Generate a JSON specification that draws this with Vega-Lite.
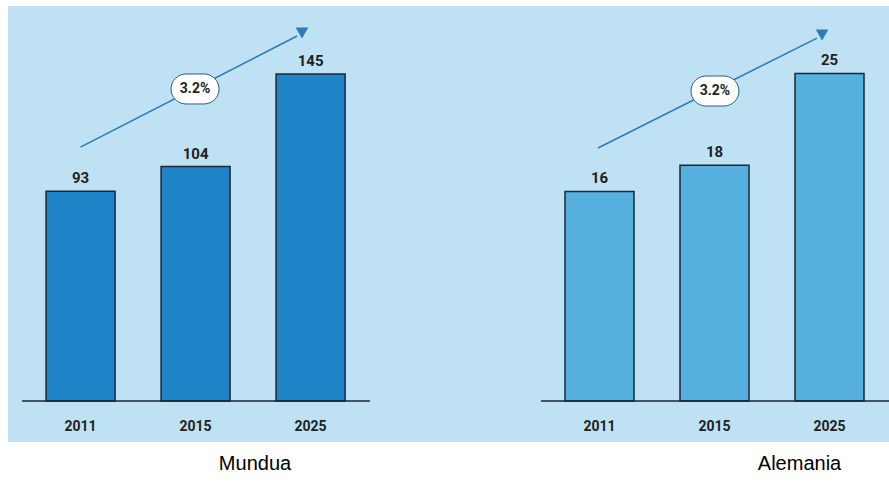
{
  "$schema": "https://vega.github.io/schema/vega-lite/v6.json",
  "background": "white",
  "padding": {"left": 8, "top": 6, "right": 0, "bottom": 0},
  "spacing": 0,
  "config": {"view": {"fill": "#bfe1f4", "stroke": null}},
  "datasets": {
    "bars": [
      {"region": "Mundua", "year": "2011", "value": 93},
      {"region": "Mundua", "year": "2015", "value": 104},
      {"region": "Mundua", "year": "2025", "value": 145},
      {"region": "Alemania", "year": "2011", "value": 16},
      {"region": "Alemania", "year": "2015", "value": 18},
      {"region": "Alemania", "year": "2025", "value": 25}
    ],
    "baseline": [
      {"region": "Mundua", "start": -0.509, "end": 2.517},
      {"region": "Alemania", "start": -0.509, "end": 2.52}
    ],
    "arrow": [
      {"region": "Mundua", "pos": 0, "level": 112.6},
      {"region": "Mundua", "pos": 1.883, "level": 161.9},
      {"region": "Alemania", "pos": -0.013, "level": 19.31},
      {"region": "Alemania", "pos": 1.891, "level": 27.7}
    ],
    "head": [
      {"region": "Mundua", "pos": 1.926, "level": 163.2},
      {"region": "Alemania", "pos": 1.935, "level": 27.94}
    ],
    "badge": [
      {"region": "Mundua", "pos": 0.996, "level": 138.4, "label": "3.2%"},
      {"region": "Alemania", "pos": 1.004, "level": 23.66, "label": "3.2%"}
    ]
  },
  "hconcat": [
    {
      "width": 440,
      "height": 436,
      "title": {"text": "Mundua", "orient": "bottom", "dx": 27, "offset": 12, "font": "Liberation Sans", "fontSize": 20, "fontWeight": "normal", "color": "#000000"},
      "layer": [
        {
          "data": {"name": "bars"},
          "transform": [{"filter": "datum.region === 'Mundua'"}],
          "encoding": {
            "x": {"field": "year", "type": "nominal", "axis": null, "scale": {"paddingInner": 0.4, "paddingOuter": 0.613, "align": 0.27}},
            "y": {"field": "value", "type": "quantitative", "axis": null, "scale": {"domain": [-18.18, 175.2], "nice": false, "zero": false}}
          },
          "layer": [
            {"mark": {"type": "bar", "fill": "#1f83c7", "stroke": "#1c2733", "strokeWidth": 1.5}},
            {"mark": {"type": "text", "baseline": "bottom", "dy": -5, "font": "Roboto", "fontSize": 15, "fontWeight": "bold", "color": "#222222"}, "encoding": {"text": {"field": "value"}}},
            {"mark": {"type": "text", "baseline": "middle", "font": "Roboto", "fontSize": 14, "fontWeight": "bold", "color": "#222222"}, "encoding": {"text": {"field": "year"}, "y": {"datum": -11.5}}}
          ]
        },
        {
          "layer": [
            {
              "data": {"name": "baseline"},
              "transform": [{"filter": "datum.region === 'Mundua'"}],
              "mark": {"type": "rule", "color": "#1c2733", "strokeWidth": 1.5},
              "encoding": {
                "x": {"field": "start", "type": "quantitative", "axis": null, "scale": {"domain": [-0.6304, 3.1957], "nice": false, "zero": false}},
                "x2": {"field": "end"},
                "y": {"datum": 0, "axis": null, "scale": {"domain": [-18.18, 175.2], "nice": false, "zero": false}}
              }
            },
            {
              "data": {"name": "arrow"},
              "transform": [{"filter": "datum.region === 'Mundua'"}],
              "mark": {"type": "line", "color": "#2b7bbd", "strokeWidth": 1.5},
              "encoding": {
                "x": {"field": "pos", "type": "quantitative", "axis": null, "scale": {"domain": [-0.6304, 3.1957], "nice": false, "zero": false}},
                "y": {"field": "level", "type": "quantitative", "axis": null, "scale": {"domain": [-18.18, 175.2], "nice": false, "zero": false}}
              }
            },
            {
              "data": {"name": "head"},
              "transform": [{"filter": "datum.region === 'Mundua'"}],
              "mark": {"type": "point", "shape": "triangle-down", "filled": true, "size": 160, "color": "#2b7bbd", "opacity": 1},
              "encoding": {
                "x": {"field": "pos", "type": "quantitative", "axis": null, "scale": {"domain": [-0.6304, 3.1957], "nice": false, "zero": false}},
                "y": {"field": "level", "type": "quantitative", "axis": null, "scale": {"domain": [-18.18, 175.2], "nice": false, "zero": false}}
              }
            },
            {
              "data": {"name": "badge"},
              "transform": [{"filter": "datum.region === 'Mundua'"}],
              "mark": {"type": "point", "shape": "M -0.6 -1 L 0.6 -1 A 1 1 0 0 1 0.6 1 L -0.6 1 A 1 1 0 0 1 -0.6 -1 Z", "filled": true, "size": 900, "fill": "#ffffff", "stroke": "#2c5f8a", "strokeWidth": 1, "opacity": 1},
              "encoding": {
                "x": {"field": "pos", "type": "quantitative", "axis": null, "scale": {"domain": [-0.6304, 3.1957], "nice": false, "zero": false}},
                "y": {"field": "level", "type": "quantitative", "axis": null, "scale": {"domain": [-18.18, 175.2], "nice": false, "zero": false}}
              }
            },
            {
              "data": {"name": "badge"},
              "transform": [{"filter": "datum.region === 'Mundua'"}],
              "mark": {"type": "text", "font": "Roboto", "fontSize": 14, "fontWeight": "bold", "color": "#222222", "baseline": "middle"},
              "encoding": {
                "x": {"field": "pos", "type": "quantitative", "axis": null, "scale": {"domain": [-0.6304, 3.1957], "nice": false, "zero": false}},
                "y": {"field": "level", "type": "quantitative", "axis": null, "scale": {"domain": [-18.18, 175.2], "nice": false, "zero": false}},
                "text": {"field": "label"}
              }
            }
          ]
        }
      ],
      "resolve": {"scale": {"x": "independent"}}
    },
    {
      "width": 441,
      "height": 436,
      "title": {"text": "Alemania", "orient": "bottom", "dx": 131, "offset": 12, "font": "Liberation Sans", "fontSize": 20, "fontWeight": "normal", "color": "#000000"},
      "layer": [
        {
          "data": {"name": "bars"},
          "transform": [{"filter": "datum.region === 'Alemania'"}],
          "encoding": {
            "x": {"field": "year", "type": "nominal", "axis": null, "scale": {"paddingInner": 0.4, "paddingOuter": 0.6174, "align": 0.824}},
            "y": {"field": "value", "type": "quantitative", "axis": null, "scale": {"domain": [-3.13, 30.15], "nice": false, "zero": false}}
          },
          "layer": [
            {"mark": {"type": "bar", "fill": "#56b0df", "stroke": "#1c2733", "strokeWidth": 1.5}},
            {"mark": {"type": "text", "baseline": "bottom", "dy": -5, "font": "Roboto", "fontSize": 15, "fontWeight": "bold", "color": "#222222"}, "encoding": {"text": {"field": "value"}}},
            {"mark": {"type": "text", "baseline": "middle", "font": "Roboto", "fontSize": 14, "fontWeight": "bold", "color": "#222222"}, "encoding": {"text": {"field": "year"}, "y": {"datum": -1.98}}}
          ]
        },
        {
          "layer": [
            {
              "data": {"name": "baseline"},
              "transform": [{"filter": "datum.region === 'Alemania'"}],
              "mark": {"type": "rule", "color": "#1c2733", "strokeWidth": 1.5},
              "encoding": {
                "x": {"field": "start", "type": "quantitative", "axis": null, "scale": {"domain": [-1.317, 2.517], "nice": false, "zero": false}},
                "x2": {"field": "end"},
                "y": {"datum": 0, "axis": null, "scale": {"domain": [-3.13, 30.15], "nice": false, "zero": false}}
              }
            },
            {
              "data": {"name": "arrow"},
              "transform": [{"filter": "datum.region === 'Alemania'"}],
              "mark": {"type": "line", "color": "#2b7bbd", "strokeWidth": 1.5},
              "encoding": {
                "x": {"field": "pos", "type": "quantitative", "axis": null, "scale": {"domain": [-1.317, 2.517], "nice": false, "zero": false}},
                "y": {"field": "level", "type": "quantitative", "axis": null, "scale": {"domain": [-3.13, 30.15], "nice": false, "zero": false}}
              }
            },
            {
              "data": {"name": "head"},
              "transform": [{"filter": "datum.region === 'Alemania'"}],
              "mark": {"type": "point", "shape": "triangle-down", "filled": true, "size": 160, "color": "#2b7bbd", "opacity": 1},
              "encoding": {
                "x": {"field": "pos", "type": "quantitative", "axis": null, "scale": {"domain": [-1.317, 2.517], "nice": false, "zero": false}},
                "y": {"field": "level", "type": "quantitative", "axis": null, "scale": {"domain": [-3.13, 30.15], "nice": false, "zero": false}}
              }
            },
            {
              "data": {"name": "badge"},
              "transform": [{"filter": "datum.region === 'Alemania'"}],
              "mark": {"type": "point", "shape": "M -0.6 -1 L 0.6 -1 A 1 1 0 0 1 0.6 1 L -0.6 1 A 1 1 0 0 1 -0.6 -1 Z", "filled": true, "size": 900, "fill": "#ffffff", "stroke": "#2c5f8a", "strokeWidth": 1, "opacity": 1},
              "encoding": {
                "x": {"field": "pos", "type": "quantitative", "axis": null, "scale": {"domain": [-1.317, 2.517], "nice": false, "zero": false}},
                "y": {"field": "level", "type": "quantitative", "axis": null, "scale": {"domain": [-3.13, 30.15], "nice": false, "zero": false}}
              }
            },
            {
              "data": {"name": "badge"},
              "transform": [{"filter": "datum.region === 'Alemania'"}],
              "mark": {"type": "text", "font": "Roboto", "fontSize": 14, "fontWeight": "bold", "color": "#222222", "baseline": "middle"},
              "encoding": {
                "x": {"field": "pos", "type": "quantitative", "axis": null, "scale": {"domain": [-1.317, 2.517], "nice": false, "zero": false}},
                "y": {"field": "level", "type": "quantitative", "axis": null, "scale": {"domain": [-3.13, 30.15], "nice": false, "zero": false}},
                "text": {"field": "label"}
              }
            }
          ]
        }
      ],
      "resolve": {"scale": {"x": "independent"}}
    }
  ]
}
